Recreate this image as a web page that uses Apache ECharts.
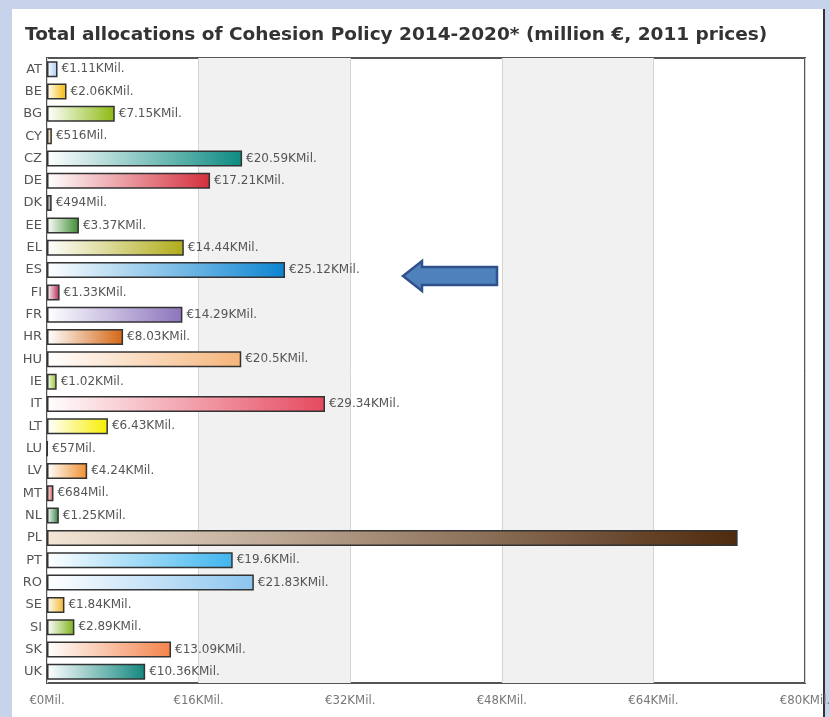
<!DOCTYPE html>
<html>
<head>
<meta charset="utf-8">
<script src="https://cdn.jsdelivr.net/npm/echarts@6/dist/echarts.min.js"></script>
<style>
  html, body { margin:0; padding:0; width:830px; height:717px; overflow:hidden; background:#c6d3ea; }
  #panel { position:absolute; left:12px; top:9px; width:811px; height:708px; background:#ffffff; border-right:2px solid #333; }
  #chart { position:absolute; left:0; top:0; width:830px; height:717px; }
</style>
</head>
<body>
<div id="panel"></div>
<div id="chart"></div>
<script>
// ---- data ----
const countries = ['AT','BE','BG','CY','CZ','DE','DK','EE','EL','ES','FI','FR','HR','HU','IE','IT','LT','LU','LV','MT','NL','PL','PT','RO','SE','SI','SK','UK'];
const allocations = [1110, 2060, 7150, 516, 20590, 17210, 494, 3370, 14440, 25120, 1330, 14290, 8030, 20500, 1020, 29340, 6430, 57, 4240, 684, 1250, 72890, 19600, 21830, 1840, 2890, 13090, 10360];
const xTicks = [0, 16000, 32000, 48000, 64000, 80000];
const titleText = 'Total allocations of Cohesion Policy 2014-2020* (million €, 2011 prices)';

// ---- styles ----
const barColors = ['#a9c9ef','#f5b800','#8dba10','#e5c87a','#0d8b82','#d42f3c','#7a7a7a','#3d8a2f','#b0ac1a','#0b84d2','#b3234d','#8c74bd','#d46614','#f5b47a','#8fbf23','#e6495f','#f7ee00','#999999','#ef8f2e','#d94646','#2a7d3e','#4e2a0e','#3fb5ee','#8cc4ef','#f0b52a','#7fb21c','#f4834a','#13877f'];

function fmt(v) {
  if (v === 0) return '€0Mil.';
  if (v < 1000) return '€' + v + 'Mil.';
  return '€' + parseFloat((v / 1000).toFixed(2)) + 'KMil.';
}

const chart = echarts.init(document.getElementById('chart'), null, {renderer: 'canvas'});

const data = allocations.map((v, i) => {
  const c = barColors[i];
  const start = countries[i] === 'PL' ? '#f3e6d6' : '#ffffff';
  return {
    value: v,
    itemStyle: {
      color: new echarts.graphic.LinearGradient(0, 0, 1, 0, [
        {offset: 0, color: start},
        {offset: 1, color: c}
      ]),
      borderColor: '#333333',
      borderWidth: 1.5
    },
    label: { show: countries[i] !== 'PL' }
  };
});

chart.setOption({
  backgroundColor: 'transparent',
  animation: false,
  title: {
    text: titleText,
    left: 20,
    top: 21,
    textStyle: { fontFamily: 'DejaVu Sans', fontWeight: 'bold', fontSize: 18.5, color: '#333' }
  },
  grid: {
    left: 47, right: 25, top: 58, bottom: 34,
    containLabel: false,
    outerBoundsMode: 'none',
    show: true, borderColor: '#555', borderWidth: 2, backgroundColor: 'transparent'
  },
  xAxis: {
    type: 'value',
    min: xTicks[0], max: xTicks[xTicks.length - 1], interval: xTicks[1] - xTicks[0],
    axisLine: { show: false },
    axisTick: { show: false },
    axisLabel: { formatter: fmt, color: '#777', fontFamily: 'DejaVu Sans Condensed', fontSize: 13, margin: 11 },
    splitLine: { show: true, lineStyle: { color: '#d4d4d4', width: 1 } },
    splitArea: { show: true, areaStyle: { color: ['rgba(0,0,0,0)', '#f1f1f1'] } }
  },
  yAxis: {
    type: 'category',
    data: countries,
    inverse: true,
    axisLine: { show: false },
    axisTick: { show: false },
    axisLabel: { color: '#555', fontFamily: 'DejaVu Sans', fontSize: 13, margin: 5 }
  },
  series: [{
    type: 'bar',
    data: data,
    barWidth: 16,
    label: {
      show: true,
      position: 'right',
      distance: 4,
      formatter: p => fmt(p.value),
      color: '#555',
      fontFamily: 'DejaVu Sans',
      fontSize: 12
    }
  }],
  graphic: [{
    type: 'polygon',
    z: 100,
    shape: { points: [[403,276],[422,261],[422,267],[497,267],[497,285],[422,285],[422,291]] },
    style: { fill: '#4f81bd', stroke: '#2f528f', lineWidth: 2.5 }
  }]
});
</script>
</body>
</html>
